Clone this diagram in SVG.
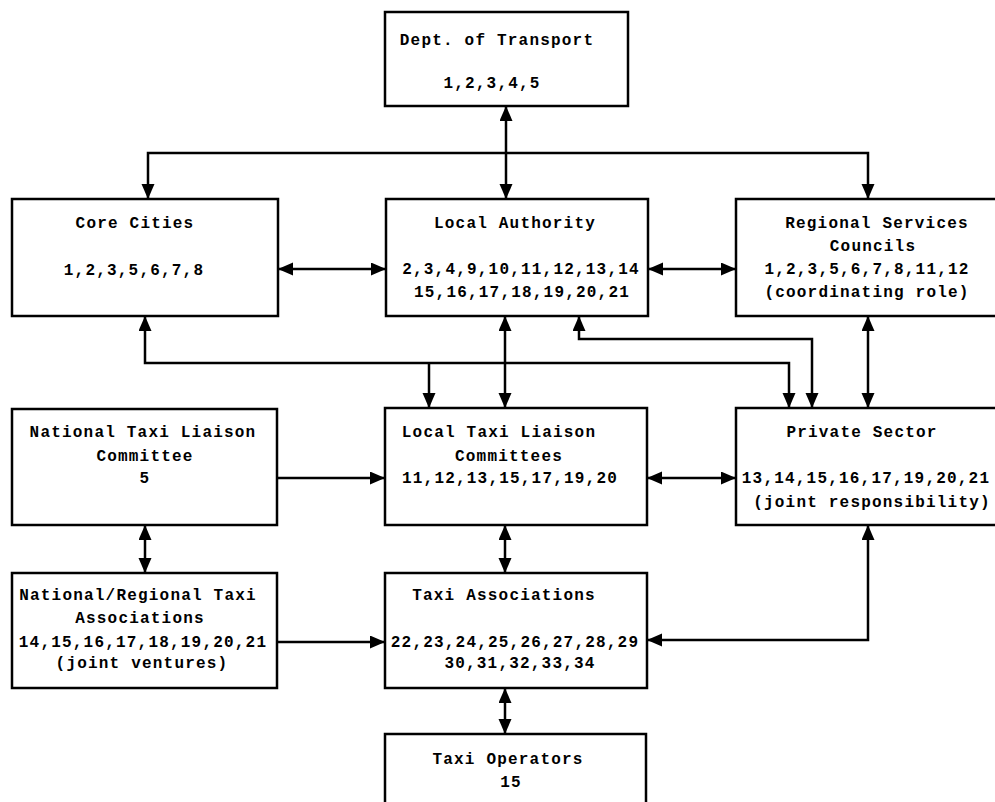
<svg xmlns="http://www.w3.org/2000/svg" width="995" height="802" viewBox="0 0 995 802">
<style>
rect{fill:#fff;stroke:#000;stroke-width:2.5}
text{font-family:"Liberation Mono","DejaVu Sans Mono",monospace;font-weight:bold;font-size:16px;letter-spacing:1.2px;text-anchor:middle;fill:#000}
.c path{fill:none;stroke:#000;stroke-width:2.5}
</style>
<defs>
<marker id="ah" markerUnits="userSpaceOnUse" markerWidth="16" markerHeight="14" refX="15" refY="6.5" orient="auto-start-reverse" viewBox="0 0 16 14">
<path d="M0,0 L15,6.5 L0,13 z" fill="#000"/>
</marker>
</defs>
<rect width="995" height="802" style="stroke:none"/>
<g class="c" id="connectors">
<path d="M506,106 L506,199" marker-start="url(#ah)" marker-end="url(#ah)"/>
<path d="M148,199 L148,153 L868,153 L868,199" marker-start="url(#ah)" marker-end="url(#ah)"/>
<path d="M278,269 L386,269" marker-start="url(#ah)" marker-end="url(#ah)"/>
<path d="M648,269 L736,269" marker-start="url(#ah)" marker-end="url(#ah)"/>
<path d="M145,316 L145,363 L789,363 L789,408" marker-start="url(#ah)" marker-end="url(#ah)"/>
<path d="M429,363 L429,408" marker-end="url(#ah)"/>
<path d="M505,316 L505,408" marker-start="url(#ah)" marker-end="url(#ah)"/>
<path d="M579,316 L579,339 L812,339 L812,408" marker-start="url(#ah)" marker-end="url(#ah)"/>
<path d="M868,316 L868,408" marker-start="url(#ah)" marker-end="url(#ah)"/>
<path d="M277,478 L385,478" marker-end="url(#ah)"/>
<path d="M647,478 L736,478" marker-start="url(#ah)" marker-end="url(#ah)"/>
<path d="M145,525 L145,573" marker-start="url(#ah)" marker-end="url(#ah)"/>
<path d="M505,525 L505,573" marker-start="url(#ah)" marker-end="url(#ah)"/>
<path d="M277,642 L385,642" marker-end="url(#ah)"/>
<path d="M868,525 L868,640 L647,640" marker-start="url(#ah)" marker-end="url(#ah)"/>
<path d="M505,688 L505,734" marker-start="url(#ah)" marker-end="url(#ah)"/>
</g>
<g id="dept">
<rect x="385" y="12" width="243" height="94"/>
<text x="497" y="45">Dept. of Transport</text>
<text x="492" y="88">1,2,3,4,5</text>
</g>
<g id="core">
<rect x="12" y="199" width="266" height="117"/>
<text x="135" y="228">Core Cities</text>
<text x="134" y="275">1,2,3,5,6,7,8</text>
</g>
<g id="local-authority">
<rect x="386" y="199" width="262" height="117"/>
<text x="515" y="228">Local Authority</text>
<text x="521" y="274">2,3,4,9,10,11,12,13,14</text>
<text x="522" y="297">15,16,17,18,19,20,21</text>
</g>
<g id="regional">
<rect x="736" y="199" width="264" height="117"/>
<text x="877" y="228">Regional Services</text>
<text x="873" y="251">Councils</text>
<text x="867" y="274">1,2,3,5,6,7,8,11,12</text>
<text x="867" y="297">(coordinating role)</text>
</g>
<g id="ntlc">
<rect x="12" y="409" width="265" height="116"/>
<text x="143" y="437">National Taxi Liaison</text>
<text x="145" y="461">Committee</text>
<text x="145" y="483">5</text>
</g>
<g id="ltlc">
<rect x="385" y="408" width="262" height="117"/>
<text x="499" y="437">Local Taxi Liaison</text>
<text x="509" y="461">Committees</text>
<text x="510" y="483">11,12,13,15,17,19,20</text>
</g>
<g id="private">
<rect x="736" y="408" width="264" height="117"/>
<text x="862" y="437">Private Sector</text>
<text x="866" y="483">13,14,15,16,17,19,20,21</text>
<text x="872" y="507">(joint responsibility)</text>
</g>
<g id="nrta">
<rect x="12" y="573" width="265" height="115"/>
<text x="138" y="600">National/Regional Taxi</text>
<text x="140" y="623">Associations</text>
<text x="143" y="647">14,15,16,17,18,19,20,21</text>
<text x="142" y="668">(joint ventures)</text>
</g>
<g id="taxi-assoc">
<rect x="385" y="573" width="262" height="115"/>
<text x="504" y="600">Taxi Associations</text>
<text x="515" y="647">22,23,24,25,26,27,28,29</text>
<text x="520" y="668">30,31,32,33,34</text>
</g>
<g id="operators">
<rect x="385" y="734" width="261" height="80"/>
<text x="508" y="764">Taxi Operators</text>
<text x="511" y="787">15</text>
</g>
</svg>
